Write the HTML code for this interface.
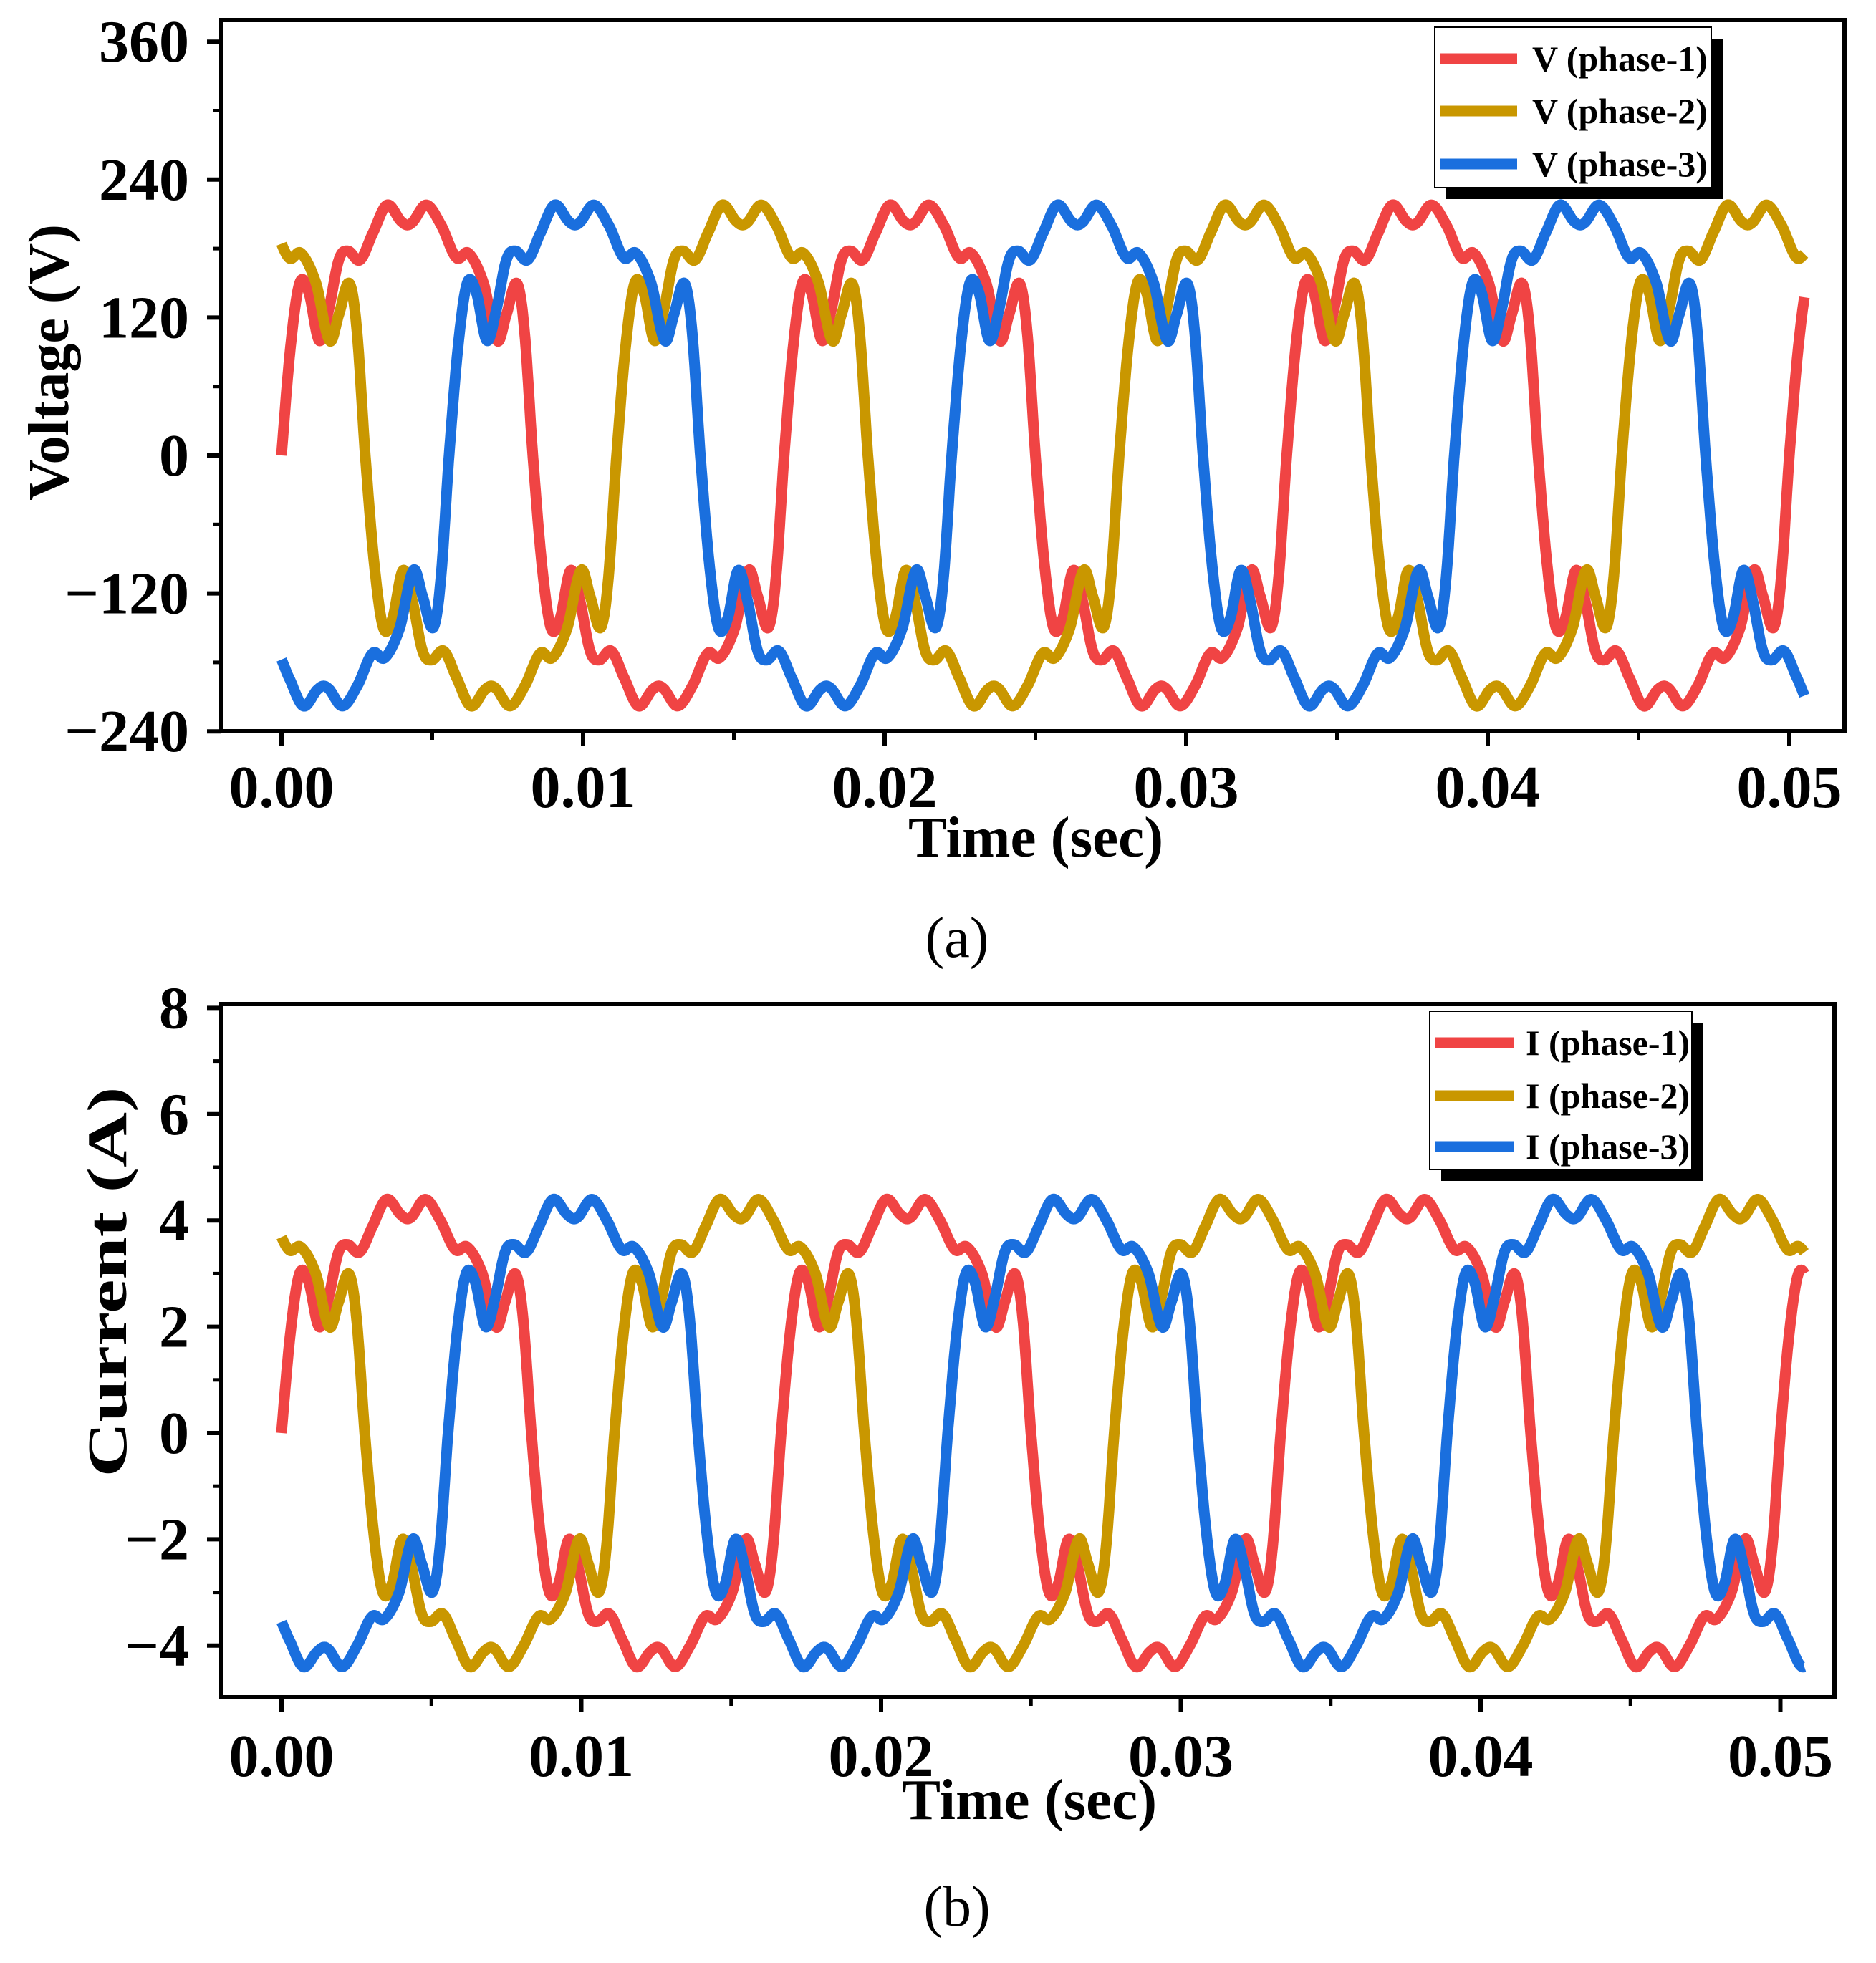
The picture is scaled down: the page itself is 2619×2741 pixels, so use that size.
<!DOCTYPE html>
<html><head><meta charset="utf-8"><style>
html,body{margin:0;padding:0;background:#fff;}
svg{display:block;font-family:"Liberation Serif",serif;}
</style></head><body>
<svg id="fig" width="2619" height="2741" viewBox="0 0 2619 2741" xmlns="http://www.w3.org/2000/svg"></svg>
<script>
// ---- data (one cycle shape, first half-cycle; second half is negated) ----
const period = 0.016667;
const shapeTimesMs = [0,0.3,0.6,0.9,1.25,1.55,1.9,2.2,2.6,3.0,3.5,4.0,4.3,4.8,5.3,5.8,6.2,6.7,7.15,7.45,7.8,8.05,8.333];
const voltageShape = [0,95,150,142,100,125,170,178,170,192,218,203,202,218,200,172,176,150,100,122,150,110,0];
const currentShape = [0,1.9,3.0,2.85,2.0,2.5,3.4,3.55,3.4,3.85,4.4,4.1,4.05,4.4,4.0,3.45,3.5,3.0,2.0,2.45,3.0,2.2,0];
const phaseShifts = [0, 0.005556, -0.005556]; // phase-2 leads, phase-3 lags
const seriesColors = ["#f04444","#c99700","#1a6fde"];
const voltageTicks = [-240,-120,0,120,240,360];
const currentTicks = [-4,-2,0,2,4,6,8];
const timeTicks = [0,0.01,0.02,0.03,0.04,0.05];
const timeTickLabels = ["0.00","0.01","0.02","0.03","0.04","0.05"];
const voltageEnd = 0.0505, currentEnd = 0.0508;

const NS="http://www.w3.org/2000/svg";
const svg=document.getElementById('fig');
function mk(tag,attrs,parent,text){const e=document.createElementNS(NS,tag);for(const k in attrs)e.setAttribute(k,attrs[k]);if(text!==undefined)e.textContent=text;(parent||svg).appendChild(e);return e;}

function shapeAt(shape,t){
  let tm=((t%period)+period)%period*1000;
  let sign=1;const half=period*500;
  if(tm>=half){tm-=half;sign=-1;}
  let i=0;while(i<shapeTimesMs.length-2&&tm>shapeTimesMs[i+1])i++;
  const t0=shapeTimesMs[i],t1=shapeTimesMs[i+1];
  const f=(tm-t0)/(t1-t0);
  const p0=i>0?shape[i-1]:-shape[shape.length-2];
  const p1=shape[i],p2=shape[i+1];
  const p3=i+2<shape.length?shape[i+2]:-shape[1];
  const f2=f*f,f3=f2*f;
  const v=0.5*((2*p1)+(-p0+p2)*f+(2*p0-5*p1+4*p2-p3)*f2+(-p0+3*p1-3*p2+p3)*f3);
  return sign*v;
}

function panel(o){
  const g=mk('g',{});
  const X=v=>o.x0+v/0.01*o.xs;
  const Y=v=>o.y0-v*o.ys;
  const sg=mk('g',{},g);
  for(let s=0;s<3;s++){
    let d='';
    for(let t=0;t<=o.end+1e-9;t+=0.00002){
      const v=shapeAt(o.shape,t+phaseShifts[s]);
      d+=(d?'L':'M')+X(t).toFixed(1)+','+Y(v).toFixed(1);
    }
    const p=mk('path',{d:d,fill:'none',stroke:seriesColors[s],'stroke-width':15,'stroke-linejoin':'round'},sg);
    
    
  }
  mk('rect',{x:o.L,y:o.T,width:o.R-o.L,height:o.B-o.T,fill:'none',stroke:'#000','stroke-width':6,},g);
  const yt=mk('g',{},g);
  for(let i=0;i<o.yticks.length;i++){
    const v=o.yticks[i],y=Y(v);
    mk('line',{x1:o.L,x2:o.L-20,y1:y,y2:y,stroke:'#000','stroke-width':6},yt);
    const lb=mk('text',{x:o.L-45,y:y+28,'text-anchor':'end','font-size':84,'font-weight':'bold'},yt,String(v).replace('-','\u2212'));
    
    
    if(i<o.yticks.length-1){const m=Y((v+o.yticks[i+1])/2);mk('line',{x1:o.L,x2:o.L-12,y1:m,y2:m,stroke:'#000','stroke-width':5},yt);}
  }
  const xt=mk('g',{},g);
  for(let i=0;i<timeTicks.length;i++){
    const x=X(timeTicks[i]);
    mk('line',{x1:x,x2:x,y1:o.B,y2:o.B+20,stroke:'#000','stroke-width':6},xt);
    const lb=mk('text',{x:x,y:o.xlY,'text-anchor':'middle','font-size':84,'font-weight':'bold'},xt,timeTickLabels[i]);
    
    
    if(i<timeTicks.length-1){const m=X(timeTicks[i]+0.005);mk('line',{x1:m,x2:m,y1:o.B,y2:o.B+12,stroke:'#000','stroke-width':5},xt);}
  }
  mk('text',{x:o.xtX,y:o.xtY,'text-anchor':'middle','font-size':81,'font-weight':'bold',},g,'Time (sec)');
  const yattrs={x:0,y:0,transform:`translate(${o.ytX},${o.ytY}) rotate(-90)`,'text-anchor':'middle','font-size':o.ytSize,'font-weight':o.ytWeight,};
  if(o.ytLen){yattrs.textLength=o.ytLen;yattrs.lengthAdjust='spacingAndGlyphs';}
  mk('text',yattrs,g,o.ytitle);
  mk('text',{x:o.capX,y:o.capY,'text-anchor':'middle','font-size':80,},g,o.caption);
  const lg=mk('g',{},g);
  const b=o.leg;
  mk('rect',{x:b.x+16,y:b.y+16,width:b.w,height:b.h,fill:'#000'},lg);
  mk('rect',{x:b.x,y:b.y,width:b.w,height:b.h,fill:'#fff',stroke:'#000','stroke-width':2},lg);
  for(let s=0;s<3;s++){
    const ry=b.rows[s];
    const e=mk('g',{},lg);
    
    
    mk('line',{x1:b.lx1,x2:b.lx2,y1:ry,y2:ry,stroke:seriesColors[s],'stroke-width':15},e);
    mk('text',{x:b.tx,y:ry+17,'font-size':50,'font-weight':'bold'},e,o.legPrefix+' (phase-'+(s+1)+')');
  }
}

panel({name:'voltage-chart',prefix:'voltage',L:309,R:2575,T:28,B:1021,x0:393,xs:421,y0:636,ys:1.605,
  end:voltageEnd,shape:voltageShape,yticks:voltageTicks,xlY:1127,xtX:1446,xtY:1196,ytX:95,ytY:506,ytSize:80,ytWeight:'bold',ytitle:'Voltage (V)',
  capX:1336,capY:1336,caption:'(a)',legPrefix:'V',
  leg:{x:2003,y:38,w:386,h:224,rows:[82,155,229],lx1:2011,lx2:2118,tx:2139}});
panel({name:'current-chart',prefix:'current',L:309,R:2561,T:1402,B:2370,x0:393,xs:418.5,y0:2001,ys:74.2,
  end:currentEnd,shape:currentShape,yticks:currentTicks,xlY:2480,xtX:1437,xtY:2540,ytX:176,ytY:1790,ytSize:78,ytWeight:'bold',ytLen:545,ytitle:'Current (A)',
  capX:1336,capY:2689,caption:'(b)',legPrefix:'I',
  leg:{x:1996,y:1412,w:366,h:221,rows:[1456,1530,1601],lx1:2003,lx2:2113,tx:2130}});
</script>
</body></html>
